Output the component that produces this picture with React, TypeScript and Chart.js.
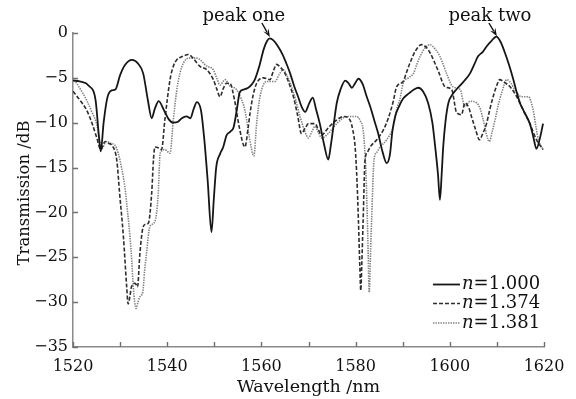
import React, { useEffect, useRef } from 'react';
import { Chart, registerables } from 'chart.js';
Chart.register(...registerables);

// ---- data (wavelength nm / transmission dB) ----
const wl1000 = [1520,1521.4,1523.4,1524.8,1525.5,1525.9,1526.5,1527.3,1528.2,1529,1530,1531,1532.5,1533.8,1534.9,1535.9,1536.7,1537.4,1538.2,1539.3,1540.3,1541.3,1542.3,1543.1,1544.1,1544.9,1545.6,1546.3,1547.2,1547.9,1548.6,1549.4,1549.9,1550.4,1551.2,1551.9,1552.6,1553.4,1554.1,1554.8,1555.4,1556.3,1557.2,1558,1558.6,1559.5,1560.5,1561.2,1561.8,1562.5,1563.4,1564.5,1565.3,1566.1,1567,1567.8,1568.6,1569.3,1570.1,1570.9,1571.6,1572.4,1573.3,1574.2,1574.8,1575.4,1576,1576.8,1577.8,1578.5,1579.2,1579.9,1580.6,1581.5,1582.3,1583.1,1584,1584.8,1585.7,1586.6,1587.3,1587.8,1588.4,1589.2,1590.1,1591.4,1592.4,1593.3,1594.3,1595.4,1596.3,1596.9,1597.5,1597.9,1598.3,1598.6,1599.1,1599.7,1600.5,1601.4,1602.8,1604.3,1605.2,1606,1607,1607.8,1608.8,1609.9,1610.8,1611.7,1612.6,1613.5,1614.2,1614.9,1616,1617,1617.7,1618.4,1619.1,1619.8];
const t1000 = [-5.3,-5.4,-5.9,-7.5,-11.5,-13.2,-10,-7.2,-6.4,-6.3,-4.7,-3.6,-3,-3.4,-4.5,-7.5,-9.5,-8.4,-7.6,-8.6,-9.6,-10,-9.9,-9.5,-9.3,-9.5,-8.5,-7.7,-8.7,-12,-16.5,-22.2,-18.5,-15,-13.5,-12.7,-11.4,-11,-10.5,-8.5,-6.6,-6.3,-6.1,-5.7,-5.2,-3.8,-1.8,-0.9,-0.6,-0.8,-1.4,-2.4,-3.4,-4.5,-6,-7.1,-8.3,-8.8,-7.9,-7.2,-8.5,-10.1,-12.4,-14.1,-12.3,-10,-7.8,-6.3,-5.3,-5.6,-6.1,-5.6,-5.1,-5.7,-7,-8.2,-9.8,-11.2,-13.2,-14.5,-13.5,-11,-9.3,-8.2,-7.3,-6.7,-6.3,-6.1,-6.5,-7.8,-10,-12.7,-15.8,-18.6,-15.5,-12.7,-9.8,-7.8,-6.9,-6.3,-5.5,-4.5,-3.5,-2.6,-2.1,-1.5,-0.9,-0.4,-1,-2.2,-3.6,-5.2,-6.6,-7.8,-9,-10.1,-11.5,-12.9,-11.8,-10.1];

const wl1374 = [1520,1521.5,1522.9,1524,1525,1525.9,1526.8,1527.5,1528.2,1529.3,1529.9,1530.7,1531.4,1531.7,1532.1,1532.4,1533.2,1533.7,1534.2,1534.9,1535.5,1536,1536.7,1537.1,1537.4,1538.1,1538.8,1539.5,1540.6,1541.3,1542,1543.3,1544.5,1545.5,1546.9,1548.4,1549.8,1550.5,1551.2,1551.9,1552.6,1553.3,1554.3,1555.3,1556.5,1557.2,1557.6,1558.3,1559,1560.4,1561.8,1562.5,1563.2,1564,1565,1566,1566.8,1567.7,1568.5,1569.3,1570,1571.4,1572.1,1572.8,1573.7,1574.5,1576,1577.4,1578.8,1579.4,1579.9,1580.3,1580.6,1580.9,1581.1,1581.3,1581.6,1582,1582.5,1583.1,1584.5,1585.9,1587,1588,1588.7,1590.1,1590.8,1591.5,1592.7,1594,1595,1595.8,1596.7,1597.6,1599,1600.4,1601.4,1602.5,1603.2,1604,1604.6,1605.5,1606.3,1607,1607.8,1608.5,1609.2,1610,1610.6,1611.6,1612.8,1614.2,1615.6,1617,1618.4,1619.8];
const t1374 = [-6.5,-7.5,-8.6,-10,-11.6,-13,-12.1,-12.3,-12.5,-14.2,-17.9,-22.7,-28.3,-30.2,-29.3,-28.3,-27.9,-28.3,-24.6,-21.6,-21.3,-21.2,-17.9,-14,-12.7,-12.8,-13,-9.7,-5.2,-3.7,-3,-2.6,-2.4,-2.8,-3.7,-4.1,-5.2,-6.2,-7.1,-6.2,-5.6,-5.6,-7.5,-10.5,-12.7,-10.5,-8.9,-6.8,-5.6,-5,-5.2,-4.3,-3.5,-3.8,-4.5,-5.8,-7.1,-9.2,-11.2,-10.6,-10.1,-10.1,-10.8,-11.4,-10.9,-10.4,-9.7,-9.3,-9.7,-10.8,-12.7,-16.5,-20.9,-26,-28.7,-26,-20.9,-14.2,-13.3,-12.7,-11.9,-10.8,-9.4,-7.6,-6,-5.4,-4.4,-3.4,-2,-1.3,-1.6,-2.2,-3.2,-4.3,-6,-6.3,-8.8,-9.1,-7.8,-8.3,-9.3,-10.8,-11.9,-11.2,-10.1,-8.5,-7.1,-5.8,-5.2,-5.5,-6,-7.1,-8.6,-10.1,-11.9,-13];

const wl1381 = [1520,1521.5,1522.9,1524,1525,1526.1,1527.1,1528,1528.9,1529.6,1530.3,1531,1531.6,1532.1,1532.5,1532.8,1533.4,1533.8,1534.2,1534.8,1535.2,1535.6,1536.3,1537.4,1538.1,1538.5,1539.5,1540.6,1541.3,1542,1542.7,1543.5,1544.5,1546.3,1548.4,1549.8,1550.5,1551.2,1552.3,1553.3,1554.7,1555.6,1556.5,1557.4,1558.4,1559,1559.7,1561.1,1562.9,1563.8,1564.6,1565.5,1566.4,1567.3,1568.2,1569.1,1570,1570.7,1571.4,1572.1,1572.8,1574.2,1576,1578.1,1580.2,1581,1581.6,1582,1582.3,1582.6,1582.9,1583.2,1583.4,1583.9,1584.5,1585.2,1586.6,1588,1588.7,1589.4,1590.1,1591.2,1592.3,1593,1593.7,1594.7,1595.8,1596.9,1597.9,1598.6,1599.3,1600.7,1602.2,1603.2,1604.3,1605.7,1606.5,1607.1,1608.4,1609,1609.6,1610.3,1611,1612.1,1613,1613.8,1615.2,1616.7,1617.7,1618.3,1618.8,1619.8];
const t1381 = [-5,-6.2,-7.5,-8.8,-10.1,-12.9,-12.1,-12.3,-12.5,-13.4,-15,-17.1,-20,-22.7,-25.5,-28.3,-30.7,-30,-29.4,-28.9,-26.5,-24.6,-21.6,-21,-17.9,-13.4,-13,-13.4,-9.7,-6.5,-4.5,-3.3,-2.8,-2.8,-3.7,-4.1,-5,-5.8,-5.2,-5.9,-6.3,-7.2,-8.6,-11.5,-13.7,-10,-7.1,-5.4,-5.4,-4.6,-4.1,-4.8,-6,-7.5,-9.3,-10.8,-11.7,-11,-10.4,-11.1,-11.7,-11.2,-10.1,-9.3,-9.3,-9.8,-10.8,-13.5,-17.1,-23,-28.9,-24,-20.9,-14.2,-13.3,-12.7,-11.9,-10.4,-8.5,-7.4,-5.6,-5,-4.5,-3.5,-2.6,-1.7,-1.3,-1.8,-2.6,-3.5,-4.5,-6,-6.3,-8.2,-7.6,-7.8,-8.5,-9.7,-12.1,-11,-9.7,-8,-6.7,-5.2,-5.6,-6.3,-7.1,-7.1,-8.6,-10.5,-11.9,-13];

const seriesNames = ['1.000', '1.374', '1.381'];
const xTickValues = [1520, 1530, 1540, 1550, 1560, 1570, 1580, 1590, 1600, 1610, 1620];
const xLabelValues = [1520, 1540, 1560, 1580, 1600, 1620];
const yTickValues = [0, -5, -10, -15, -20, -25, -30, -35];
const peakLabels = ['peak one', 'peak two'];
const peakX = [1561.8, 1610.0];
const peakY = [-0.45, -0.35];

const styles = [
  { color: '#161616', width: 1.8, dash: [] as number[] },
  { color: '#2e2e2e', width: 1.6, dash: [4, 2] },
  { color: '#808080', width: 1.6, dash: [1.4, 1.1] },
];

const pts = (xs: number[], ys: number[]) => xs.map((x, i) => ({ x, y: ys[i] }));

const SERIF = '"DejaVu Serif", serif';

const decor = {
  id: 'decor',
  afterDraw(chart: any) {
    const { ctx, chartArea: a, scales } = chart;
    const x = scales.x, y = scales.y;
    ctx.save();
    ctx.setLineDash([]);
    // inward ticks
    ctx.strokeStyle = '#707070';
    ctx.lineWidth = 1.4;
    ctx.beginPath();
    for (const v of xTickValues) {
      const px = Math.round(x.getPixelForValue(v)) + 0.5;
      ctx.moveTo(px, a.bottom);
      ctx.lineTo(px, a.bottom - 5);
    }
    for (const v of yTickValues) {
      const py = Math.round(y.getPixelForValue(v)) + 0.5;
      ctx.moveTo(a.left, py);
      ctx.lineTo(a.left + 5, py);
    }
    ctx.stroke();

    // axis titles
    ctx.fillStyle = '#111';
    ctx.font = '17.5px ' + SERIF;
    ctx.textAlign = 'center';
    ctx.textBaseline = 'alphabetic';
    ctx.fillText('Wavelength /nm', (a.left + a.right) / 2, a.bottom + 45);
    ctx.save();
    ctx.translate(29, (a.top + a.bottom) / 2 + 3);
    ctx.rotate(-Math.PI / 2);
    ctx.font = '16.5px ' + SERIF;
    ctx.fillText('Transmission /dB', 0, 0);
    ctx.restore();

    // peak annotations
    const textOffsets = [-26, -7];
    ctx.font = '18px ' + SERIF;
    ctx.strokeStyle = '#111';
    ctx.fillStyle = '#111';
    peakLabels.forEach((lab, i) => {
      const tx = x.getPixelForValue(peakX[i]);
      const ty = y.getPixelForValue(peakY[i]);
      ctx.textAlign = 'center';
      ctx.fillText(lab, tx + textOffsets[i], 21);
      const sx = tx - 8, sy = 23;
      const ang = Math.atan2(ty - sy, tx - sx);
      ctx.lineWidth = 1.4;
      ctx.beginPath();
      ctx.moveTo(sx, sy);
      ctx.lineTo(tx - 6 * Math.cos(ang), ty - 6 * Math.sin(ang));
      ctx.stroke();
      const L = 8, W = 3;
      ctx.beginPath();
      ctx.moveTo(tx, ty);
      ctx.lineTo(tx - L * Math.cos(ang) + W * Math.sin(ang), ty - L * Math.sin(ang) - W * Math.cos(ang));
      ctx.lineTo(tx - 5 * Math.cos(ang), ty - 5 * Math.sin(ang));
      ctx.lineTo(tx - L * Math.cos(ang) - W * Math.sin(ang), ty - L * Math.sin(ang) + W * Math.cos(ang));
      ctx.closePath();
      ctx.fill();
    });

    // legend
    const rowY = [a.bottom - 62.5, a.bottom - 43.5, a.bottom - 24];
    const lx0 = a.right - 111, lx1 = a.right - 84;
    seriesNames.forEach((name, i) => {
      const s = styles[i];
      ctx.strokeStyle = s.color;
      ctx.lineWidth = s.width;
      ctx.setLineDash(s.dash);
      ctx.beginPath();
      ctx.moveTo(lx0, rowY[i]);
      ctx.lineTo(lx1, rowY[i]);
      ctx.stroke();
      ctx.setLineDash([]);
      ctx.fillStyle = '#111';
      ctx.textAlign = 'left';
      ctx.textBaseline = 'middle';
      ctx.font = 'italic 18px ' + SERIF;
      const tx = lx1 + 2;
      ctx.fillText('n', tx, rowY[i]);
      const w = ctx.measureText('n').width;
      ctx.font = '18px ' + SERIF;
      ctx.fillText('=' + name, tx + w, rowY[i]);
    });
    ctx.restore();
  },
};

export default function App() {
  const ref = useRef<HTMLCanvasElement | null>(null);
  useEffect(() => {
    if (!ref.current) return;
    const xsList = [wl1000, wl1374, wl1381];
    const ysList = [t1000, t1374, t1381];
    const chart = new Chart(ref.current, {
      type: 'line',
      data: {
        datasets: seriesNames.map((n, i) => ({
          label: 'n=' + n,
          data: pts(xsList[i], ysList[i]),
          borderColor: styles[i].color,
          borderWidth: styles[i].width,
          borderDash: styles[i].dash,
          pointRadius: 0,
          fill: false,
          cubicInterpolationMode: 'monotone' as const,
        })),
      },
      options: {
        animation: false,
        responsive: false,
        devicePixelRatio: 1,
        layout: { padding: { top: 33, right: 32, left: 0, bottom: 0 } },
        plugins: { legend: { display: false }, tooltip: { enabled: false } },
        scales: {
          x: {
            type: 'linear',
            min: 1520,
            max: 1620,
            grid: { display: false, drawTicks: false },
            border: { display: true, color: '#8a8a8a', width: 1.5 },
            afterBuildTicks: (s: any) => { s.ticks = xTickValues.map((v) => ({ value: v })); },
            ticks: {
              autoSkip: false,
              maxRotation: 0,
              padding: 10,
              color: '#111',
              font: { family: SERIF, size: 16 },
              callback: (v: any) => (xLabelValues.includes(Number(v)) ? String(v) : ''),
            },
            afterFit: (s: any) => { s.height = 52; },
          },
          y: {
            type: 'linear',
            min: -35,
            max: 0,
            grid: { display: false, drawTicks: false },
            border: { display: true, color: '#8a8a8a', width: 1.5 },
            afterBuildTicks: (s: any) => { s.ticks = yTickValues.map((v) => ({ value: v })); },
            ticks: {
              autoSkip: false,
              padding: 5,
              color: '#111',
              font: { family: SERIF, size: 16 },
              callback: (v: any) => (Number(v) < 0 ? '\u2212' + Math.abs(Number(v)) : String(v)),
            },
            afterFit: (s: any) => { s.width = 73; },
          },
        },
      },
      plugins: [decor],
    });
    return () => chart.destroy();
  }, []);
  return (
    <div style={{ position: 'fixed', left: 0, top: 0, width: 576, height: 399, background: '#fff' }}>
      <canvas ref={ref} width={576} height={399} style={{ display: 'block' }} />
    </div>
  );
}
